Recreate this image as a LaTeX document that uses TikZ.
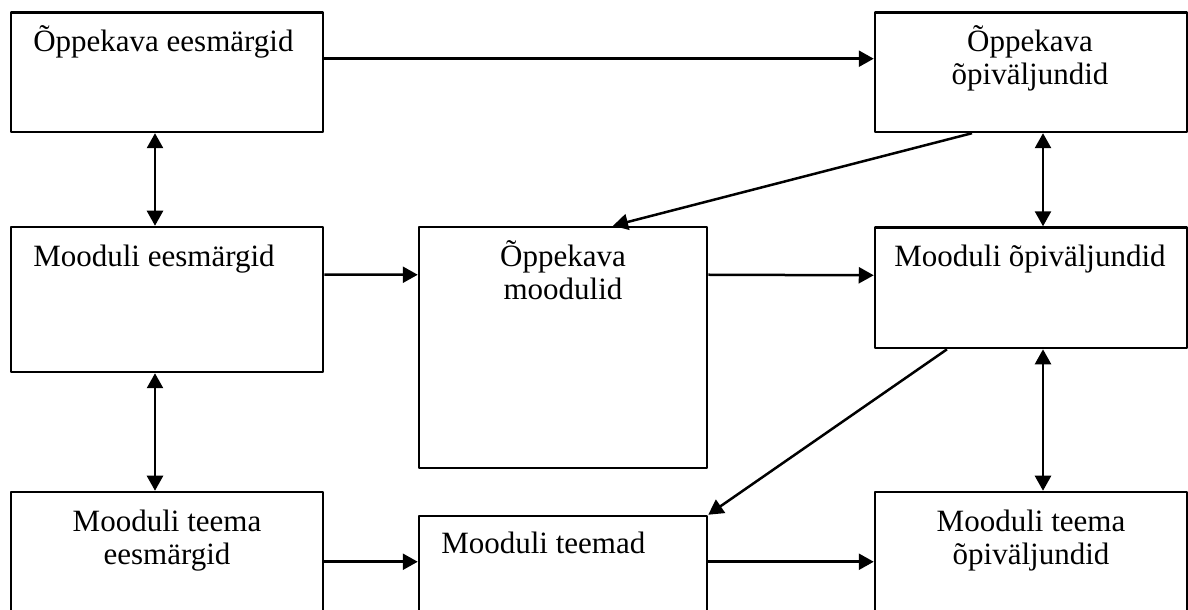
\documentclass[tikz,border=0pt]{standalone}
\usepackage{fontspec}
\setmainfont{Liberation Serif}
\usetikzlibrary{arrows.meta}
\tikzset{
  box/.style={draw,rectangle,inner sep=0pt},
  lbl/.style={inner sep=0pt,align=center,font=\fontsize{15.5bp}{16.5bp}\selectfont},
}
\begin{document}
\begin{tikzpicture}[>={Triangle[length=7.5bp,width=8bp]},line width=1.25bp,line join=bevel,]
\clip (0bp,0bp) rectangle (594bp,305bp);
%%
\node (node_0) at (83.5bp,268.9bp) [box,minimum width=156bp,minimum height=59.75bp] {};
  \node (node_1) at (515.5bp,268.9bp) [box,minimum width=156bp,minimum height=59.75bp] {};
  \node (node_2) at (83.5bp,155.25bp) [box,minimum width=156bp,minimum height=72.5bp] {};
  \node (node_3) at (281.5bp,131.25bp) [box,minimum width=144bp,minimum height=120.5bp] {};
  \node (node_4) at (515.5bp,161.1bp) [box,minimum width=156bp,minimum height=60.25bp] {};
  \node (node_5) at (83.5bp,24.5bp) [box,minimum width=156bp,minimum height=69bp] {};
  \node (node_6) at (281.5bp,18.5bp) [box,minimum width=144bp,minimum height=57bp] {};
  \node (node_7) at (515.5bp,24.5bp) [box,minimum width=156bp,minimum height=69bp] {};
%
  \node (text_0) at (16bp,279bp) [lbl,anchor=base west] {Õppekava eesmärgid};
  \node (text_1) at (515bp,262.5bp) [lbl,anchor=base] {Õppekava\\õpiväljundid};
  \node (text_2) at (16bp,171.5bp) [lbl,anchor=base west] {Mooduli eesmärgid};
  \node (text_3) at (281.5bp,155bp) [lbl,anchor=base] {Õppekava\\moodulid};
  \node (text_4) at (515bp,171.5bp) [lbl,anchor=base] {Mooduli õpiväljundid};
  \node (text_5) at (83.5bp,23bp) [lbl,anchor=base] {Mooduli teema\\eesmärgid};
  \node (text_6) at (220bp,28.5bp) [lbl,anchor=base west] {Mooduli teemad};
  \node (text_7) at (515.5bp,23bp) [lbl,anchor=base] {Mooduli teema\\õpiväljundid};
%
  \draw [black,->] ([yshift=-23.75bp]node_0.north east) -- ([yshift=-23.75bp]node_1.north west);
  \draw [black,<->] ([xshift=-6bp]node_0.south) -- ([xshift=-6bp]node_2.north);
  \draw [black,<->] ([xshift=6bp]node_1.south) -- ([xshift=6bp]node_4.north);
  \draw [black,->] ([xshift=-29.5bp]node_1.south) -- ([xshift=25bp]node_3.north);
  \draw [black,->] ([yshift=-24.5bp]node_2.north east) -- ([yshift=-24.5bp]node_3.north west);
  \draw [black,->] ([yshift=-24.5bp]node_3.north east) -- ([yshift=-24.5bp]node_4.north west);
  \draw [black,<->] ([xshift=-6bp]node_2.south) -- ([xshift=-6bp]node_5.north);
  \draw [black,<->] ([xshift=6bp]node_4.south) -- ([xshift=6bp]node_7.north);
  \draw [black,->] ([xshift=-42bp]node_4.south) -- (node_6.north east);
  \draw [black,->] ([yshift=-35.5bp]node_5.north east) -- ([yshift=-23.5bp]node_6.north west);
  \draw [black,->] ([yshift=-23.5bp]node_6.north east) -- ([yshift=-35.5bp]node_7.north west);
%
\end{tikzpicture}
\end{document}
